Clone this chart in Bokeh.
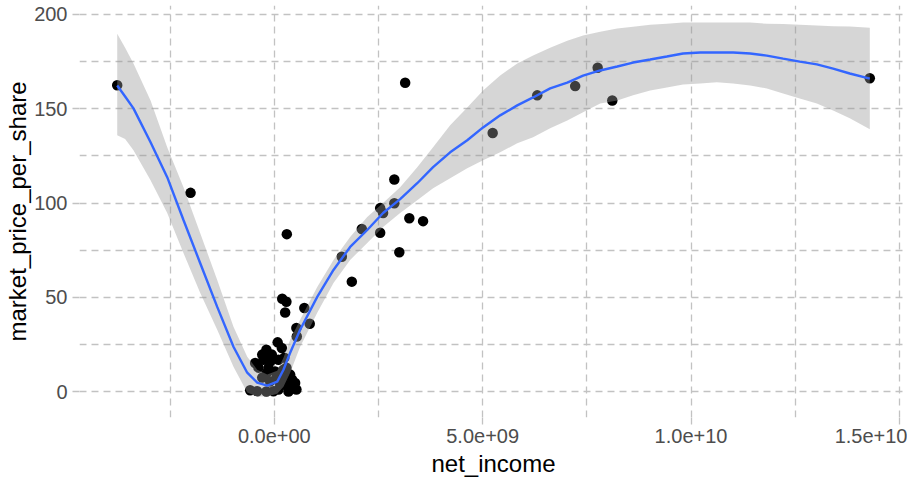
from bokeh.plotting import figure
from bokeh.models import Range1d, FixedTicker
from bokeh.embed import file_html
from bokeh.resources import INLINE

# ---- scatter data ----
net_income = [
    -3.77e9, -2.01e9, 0.30e9, 0.19e9, 0.29e9, 0.26e9, 0.72e9, 0.85e9, 0.53e9, 0.54e9,
    0.08e9, 0.18e9, -0.46e9, -0.26e9, -0.06e9, -0.14e9, 0.02e9, 0.38e9, 0.50e9, 0.42e9,
    -0.58e9, -0.41e9, 0.10e9, 0.34e9, -0.10e9, 0.14e9, 0.22e9, -0.18e9, -0.02e9, 0.24e9,
    -0.29e9, -0.19e9, -0.10e9, 0.10e9, 0.24e9, 0.29e9, 0.43e9, 0.34e9, 0.53e9, 0.14e9,
    0.05e9, -0.29e9, -0.38e9, -0.19e9, 0.22e9,
    1.62e9, 1.86e9, 2.10e9, 2.54e9, 2.61e9, 2.54e9, 2.88e9, 2.88e9, 3.00e9, 3.14e9,
    3.24e9, 3.57e9,
    5.24e9, 6.31e9, 7.22e9, 7.76e9, 8.11e9, 14.29e9,
]
market_price_per_share = [
    162.5, 105.4, 83.5, 49.2, 47.6, 41.9, 44.3, 36.0, 33.7, 29.2,
    26.1, 23.1, 15.2, 16.9, 19.6, 12.5, 10.7, 9.0, 4.6, 2.8,
    0.7, 0.2, 1.1, 2.0, 5.4, 8.1, 11.6, 9.9, 0.2, 3.7,
    7.4, 22.2, 15.9, 16.9, 18.0, 12.7, 6.3, 0.0, 1.1, 4.2,
    7.4, 19.6, 12.7, 0.0, 7.4,
    71.5, 58.3, 86.2, 97.3, 94.7, 84.2, 112.5, 99.9, 73.9, 163.8,
    91.9, 90.4,
    137.1, 157.1, 162.0, 171.7, 154.4, 166.2,
]

# ---- loess smooth and its band ----
smooth_x = [
    -3.77e9, -3.58e9, -3.38e9, -2.97e9, -2.57e9, -2.18e9, -1.78e9, -1.37e9, -0.98e9, -0.65e9,
    -0.41e9, -0.17e9, 0.07e9, 0.22e9, 0.38e9, 0.62e9, 1.03e9, 1.42e9, 1.82e9, 2.23e9,
    2.61e9, 3.02e9, 3.43e9, 3.81e9, 4.22e9, 4.63e9, 5.01e9, 5.42e9, 5.83e9, 6.21e9,
    6.62e9, 7.03e9, 7.41e9, 7.82e9, 8.23e9, 8.61e9, 9.02e9, 9.42e9, 9.81e9, 10.22e9,
    10.62e9, 11.01e9, 11.42e9, 11.82e9, 12.21e9, 12.61e9, 13.02e9, 13.41e9, 13.81e9, 14.29e9,
]
smooth_fit = [
    162.3, 156.5, 150.2, 132.2, 113.7, 91.0, 68.2, 44.9, 23.8, 10.0,
    4.8, 3.2, 5.3, 11.6, 20.6, 32.8, 50.2, 64.5, 76.7, 85.7,
    94.7, 102.1, 110.5, 119.0, 126.9, 133.3, 140.1, 146.5, 151.8, 156.0,
    160.8, 163.9, 167.6, 170.3, 172.4, 174.5, 176.1, 177.7, 179.3, 179.8,
    179.8, 179.8, 179.3, 178.2, 176.6, 175.0, 173.5, 171.3, 168.7, 166.0,
]
smooth_upper = [
    189.8, 182.4, 174.0, 154.4, 129.6, 108.4, 84.1, 59.2, 34.4, 18.5,
    11.6, 9.0, 11.1, 18.0, 27.5, 38.1, 55.5, 69.8, 82.0, 92.6,
    100.0, 108.4, 119.0, 129.6, 141.2, 150.7, 159.7, 167.6, 174.0, 178.2,
    182.4, 186.1, 188.8, 190.9, 192.5, 193.5, 194.6, 195.1, 195.7, 195.7,
    195.7, 195.7, 195.7, 195.1, 194.9, 194.6, 194.1, 193.8, 193.6, 193.0,
]
smooth_lower = [
    135.9, 134.0, 128.0, 112.1, 94.7, 73.5, 52.4, 32.8, 13.2, -0.5,
    -2.6, -2.6, -1.1, 2.6, 10.0, 23.8, 41.8, 57.6, 69.8, 78.8,
    87.3, 94.7, 101.5, 107.9, 113.2, 118.5, 122.7, 126.9, 131.7, 134.9,
    139.6, 143.8, 148.1, 152.8, 154.4, 157.1, 159.7, 161.3, 162.9, 163.4,
    164.0, 163.4, 162.3, 160.8, 158.1, 155.5, 152.8, 149.1, 144.9, 139.1,
]

# ---- axes ----
x_major = [0, 5e9, 1e10, 1.5e10]
x_labels = ["0.0e+00", "5.0e+09", "1.0e+10", "1.5e+10"]
x_minor = [-2.5e9, 2.5e9, 7.5e9, 1.25e10]
y_major = [0, 50, 100, 150, 200]
y_labels = ["0", "50", "100", "150", "200"]
y_minor = [25, 75, 125, 175]

GRID = "#C2C2C2"
FONT = "Liberation Sans"

p = figure(
    width=907, height=479,
    output_backend="svg", toolbar_location=None,
    x_range=Range1d(-4.675e9, 15.195e9),
    y_range=Range1d(-13.75, 204.76),
    min_border_left=79, min_border_right=0, min_border_top=5, min_border_bottom=61,
)
p.outline_line_color = None
p.background_fill_color = "white"
p.border_fill_color = "white"

p.xaxis.ticker = FixedTicker(ticks=x_major, minor_ticks=x_minor)
p.yaxis.ticker = FixedTicker(ticks=y_major, minor_ticks=y_minor)
p.xaxis.major_label_overrides = {v: s for v, s in zip(x_major, x_labels)}
p.yaxis.major_label_overrides = {v: s for v, s in zip(y_major, y_labels)}

for g in (p.xgrid, p.ygrid):
    g.grid_line_color = GRID
    g.grid_line_dash = "7 5"
    g.grid_line_width = 1.3
    g.minor_grid_line_color = GRID
    g.minor_grid_line_dash = "7 5"
    g.minor_grid_line_width = 1.3

p.axis.axis_line_color = None
p.axis.major_tick_in = 0
p.axis.major_tick_out = 7
p.axis.major_tick_line_color = GRID
p.axis.major_tick_line_width = 1.3
p.axis.minor_tick_line_color = None
p.axis.major_label_text_font = FONT
p.axis.major_label_text_font_size = "20px"
p.axis.major_label_text_color = "#4D4D4D"
p.axis.axis_label_text_font = FONT
p.axis.axis_label_text_font_size = "24px"
p.axis.axis_label_text_font_style = "normal"
p.axis.axis_label_text_color = "black"
p.xaxis.major_label_standoff = 4
p.yaxis.major_label_standoff = 5
p.xaxis.axis_label_standoff = 4
p.yaxis.axis_label_standoff = 0
p.xaxis.axis_label = "net_income"
p.yaxis.axis_label = "market_price_per_share"

p.scatter(net_income, market_price_per_share, size=10.5, color="black", line_color=None)
p.varea(x=smooth_x, y1=smooth_lower, y2=smooth_upper, fill_color="#999999", fill_alpha=0.4)
p.line(smooth_x, smooth_fit, line_color="#3366FF", line_width=2.4)

open("out.html", "w").write(file_html(p, INLINE))
